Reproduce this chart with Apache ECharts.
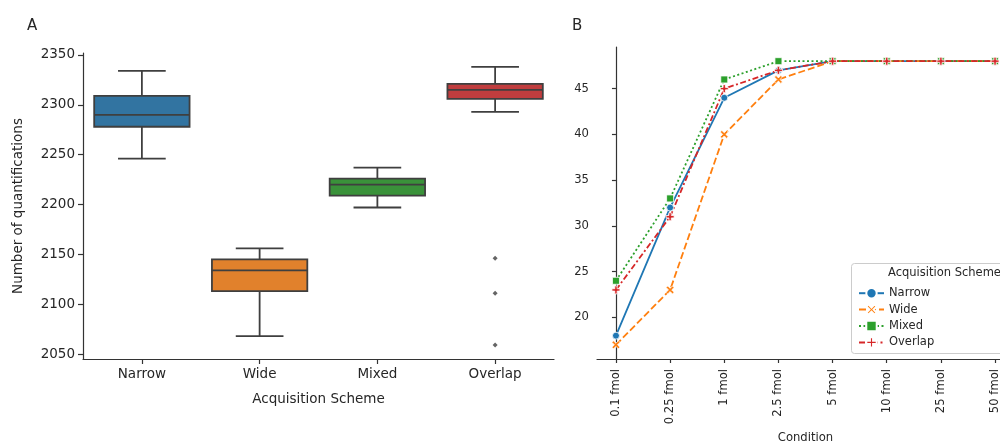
<!DOCTYPE html>
<html>
<head>
<meta charset="utf-8">
<script src="https://cdn.jsdelivr.net/npm/echarts@6/dist/echarts.min.js"></script>
<style>
  html, body { margin: 0; padding: 0; background: #fff; }
  #main { width: 1000px; height: 441px; }
</style>
</head>
<body>
<div id="main"></div>
<script>
// 左图：箱线图数据 [min, Q1, median, Q3, max]
var schemes = ['Narrow', 'Wide', 'Mixed', 'Overlap'];
var boxStats = [
    [2246, 2278, 2290, 2309, 2334],
    [2068, 2113, 2134, 2145, 2156],
    [2197, 2209, 2220, 2226, 2237],
    [2293, 2306, 2315, 2321, 2338]
];
var outliers = [[3, 2146], [3, 2111], [3, 2059]];
var boxTicks = [2050, 2100, 2150, 2200, 2250, 2300, 2350];

// 右图：折线数据
var conditions = ['0.1 fmol', '0.25 fmol', '1 fmol', '2.5 fmol', '5 fmol', '10 fmol', '25 fmol', '50 fmol'];
var narrowVals = [18, 32, 44, 47, 48, 48, 48, 48];
var wideVals = [17, 23, 40, 46, 48, 48, 48, 48];
var mixedVals = [24, 33, 46, 48, 48, 48, 48, 48];
var overlapVals = [23, 31, 45, 47, 48, 48, 48, 48];
var lineTicks = [20, 25, 30, 35, 40, 45];

var boxColors = ['#3274a1', '#e1812c', '#3a923a', '#c03d3e'];
var lineColors = ['#1f77b4', '#ff7f0e', '#2ca02c', '#d62728'];
var edge = '#3f3f3f';
var txt = '#262626';
var font = 'DejaVu Sans';

// 填充的 X 和 + 标记
var xMark = 'path://M0,2L2,0L5,3L8,0L10,2L7,5L10,8L8,10L5,7L2,10L0,8L3,5Z';
var plusMark = 'path://M3.5,0H6.5V3.5H10V6.5H6.5V10H3.5V6.5H0V3.5H3.5Z';

function renderBox(params, api) {
    var x = api.value(0);
    var pMin = api.coord([x, api.value(1)]);
    var pQ1 = api.coord([x, api.value(2)]);
    var pMed = api.coord([x, api.value(3)]);
    var pQ3 = api.coord([x, api.value(4)]);
    var pMax = api.coord([x, api.value(5)]);
    var band = api.size([1, 0])[0];
    var half = band * 0.81 / 2;
    var cap = half / 2;
    var cx = pMed[0];
    var ls = { stroke: edge, lineWidth: 1.8 };
    return {
        type: 'group',
        children: [
            { type: 'line', shape: { x1: cx, y1: pQ3[1], x2: cx, y2: pMax[1] }, style: ls },
            { type: 'line', shape: { x1: cx, y1: pQ1[1], x2: cx, y2: pMin[1] }, style: ls },
            { type: 'line', shape: { x1: cx - cap, y1: pMax[1], x2: cx + cap, y2: pMax[1] }, style: ls },
            { type: 'line', shape: { x1: cx - cap, y1: pMin[1], x2: cx + cap, y2: pMin[1] }, style: ls },
            {
                type: 'rect',
                shape: { x: cx - half, y: pQ3[1], width: half * 2, height: pQ1[1] - pQ3[1] },
                style: { fill: boxColors[x], stroke: edge, lineWidth: 1.8 }
            },
            { type: 'line', shape: { x1: cx - half, y1: pMed[1], x2: cx + half, y2: pMed[1] }, style: ls }
        ]
    };
}

function toPoints(vals) {
    var res = [];
    for (var i = 0; i < vals.length; i++) res.push([i, vals[i]]);
    return res;
}

var boxData = boxStats.map(function (s, i) { return [i].concat(s); });

var axisLineStyle = { lineStyle: { color: '#333', width: 1.2 } };

var myChart = echarts.init(document.getElementById('main'), null, { renderer: 'canvas' });
var option = {
    backgroundColor: '#fff',
    animation: false,
    textStyle: { fontFamily: font },
    grid: [
        { left: 83, right: 446, top: 53, bottom: 82, outerBoundsMode: 'none', containLabel: false },
        { left: 597, right: -14, top: 47, bottom: 82, outerBoundsMode: 'none', containLabel: false }
    ],
    xAxis: [
        {
            gridIndex: 0,
            type: 'category',
            data: schemes,
            boundaryGap: true,
            axisLine: axisLineStyle,
            axisTick: { show: true, alignWithLabel: true, length: 5, lineStyle: { color: '#333', width: 1.2 } },
            axisLabel: { color: txt, fontSize: 13.5, fontFamily: font, margin: 8 },
            name: 'Acquisition Scheme',
            nameLocation: 'middle',
            nameGap: 33,
            nameTextStyle: { color: txt, fontSize: 13.5, fontFamily: font },
            splitLine: { show: false }
        },
        {
            gridIndex: 1,
            type: 'value',
            min: -0.35,
            max: 7.35,
            axisLine: axisLineStyle,
            axisTick: { show: true, length: 4, lineStyle: { color: '#333', width: 1.2 }, customValues: [0, 1, 2, 3, 4, 5, 6, 7] },
            axisLabel: {
                color: txt, fontSize: 11.6, fontFamily: font, rotate: 90, margin: 10,
                customValues: [0, 1, 2, 3, 4, 5, 6, 7],
                formatter: function (v) { return conditions[Math.round(v)]; }
            },
            name: 'Condition',
            nameLocation: 'middle',
            nameGap: 73,
            nameTextStyle: { color: txt, fontSize: 11.6, fontFamily: font },
            splitLine: { show: false }
        }
    ],
    yAxis: [
        {
            gridIndex: 0,
            type: 'value',
            min: 2045,
            max: 2352,
            axisLine: { show: true, lineStyle: { color: '#333', width: 1.2 } },
            axisTick: { show: true, length: 5, lineStyle: { color: '#333', width: 1.2 }, customValues: boxTicks },
            axisLabel: {
                color: txt, fontSize: 13.5, fontFamily: font, margin: 8, customValues: boxTicks,
                formatter: function (v) { return String(v); }
            },
            name: 'Number of quantifications',
            nameLocation: 'middle',
            nameGap: 58,
            nameTextStyle: { color: txt, fontSize: 13.5, fontFamily: font },
            splitLine: { show: false }
        },
        {
            gridIndex: 1,
            type: 'value',
            min: 15.45,
            max: 49.55,
            axisLine: { show: true, lineStyle: { color: '#333', width: 1.2 } },
            axisTick: { show: true, length: 4, lineStyle: { color: '#333', width: 1.2 }, customValues: lineTicks },
            axisLabel: { color: txt, fontSize: 11.6, fontFamily: font, margin: 8, customValues: lineTicks },
            splitLine: { show: false }
        }
    ],
    legend: {
        orient: 'vertical',
        left: 853,
        top: 282,
        itemWidth: 25,
        itemHeight: 13,
        itemGap: 4,
        textStyle: { color: txt, fontSize: 11.5, fontFamily: font },
        data: schemes
    },
    graphic: [
        { type: 'text', left: 27, top: 19, style: { text: 'A', fontSize: 15, fontFamily: font, fill: txt } },
        { type: 'text', left: 572, top: 19, style: { text: 'B', fontSize: 15, fontFamily: font, fill: txt } },
        {
            type: 'rect', z: 1, left: 851, top: 263,
            shape: { width: 170, height: 90, r: 3 },
            style: { fill: 'rgba(255,255,255,0.8)', stroke: '#cccccc', lineWidth: 1 }
        },
        { type: 'text', z: 2, left: 888, top: 267, style: { text: 'Acquisition Scheme', fontSize: 11.5, fontFamily: font, fill: txt } }
    ],
    series: [
        {
            name: 'boxes',
            type: 'custom',
            xAxisIndex: 0,
            yAxisIndex: 0,
            renderItem: renderBox,
            encode: { x: 0, y: [1, 2, 3, 4, 5] },
            data: boxData
        },
        {
            name: 'outliers',
            type: 'scatter',
            xAxisIndex: 0,
            yAxisIndex: 0,
            symbol: 'diamond',
            symbolSize: 5,
            itemStyle: { color: edge },
            data: outliers
        },
        {
            name: 'Narrow',
            type: 'line',
            xAxisIndex: 1,
            yAxisIndex: 1,
            data: toPoints(narrowVals),
            symbol: 'circle',
            symbolSize: 7,
            color: lineColors[0],
            lineStyle: { width: 1.8, type: 'solid' },
            itemStyle: { color: lineColors[0], borderColor: '#fff', borderWidth: 0.8 }
        },
        {
            name: 'Wide',
            type: 'line',
            xAxisIndex: 1,
            yAxisIndex: 1,
            data: toPoints(wideVals),
            symbol: xMark,
            symbolSize: 8,
            color: lineColors[1],
            lineStyle: { width: 1.8, type: [7, 3] },
            itemStyle: { color: lineColors[1], borderColor: '#fff', borderWidth: 0.8 }
        },
        {
            name: 'Mixed',
            type: 'line',
            xAxisIndex: 1,
            yAxisIndex: 1,
            data: toPoints(mixedVals),
            symbol: 'rect',
            symbolSize: 7,
            color: lineColors[2],
            lineStyle: { width: 1.8, type: [2, 2.5] },
            itemStyle: { color: lineColors[2], borderColor: '#fff', borderWidth: 0.8 }
        },
        {
            name: 'Overlap',
            type: 'line',
            xAxisIndex: 1,
            yAxisIndex: 1,
            data: toPoints(overlapVals),
            symbol: plusMark,
            symbolSize: 8,
            color: lineColors[3],
            lineStyle: { width: 1.8, type: [6, 2.5, 2, 2.5] },
            itemStyle: { color: lineColors[3], borderColor: '#fff', borderWidth: 0.8 }
        }
    ]
};
myChart.setOption(option);
</script>
</body>
</html>
